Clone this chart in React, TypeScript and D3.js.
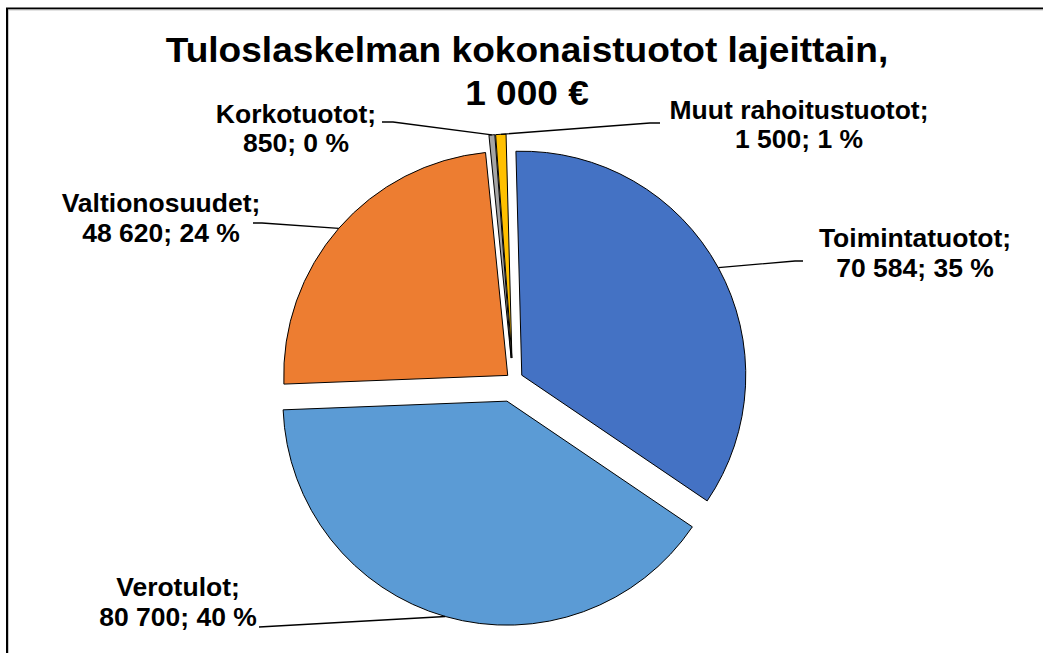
import React from "react";
import * as d3 from "d3";

// ---- data ----
const categories = ["Toimintatuotot", "Verotulot", "Valtionosuudet", "Korkotuotot", "Muut rahoitustuotot"];
const values = [70584, 80700, 48620, 850, 1500];
const colors = ["#4472C4", "#5B9BD5", "#ED7D31", "#A5A5A5", "#FFC000"];
const titleLines = ["Tuloslaskelman kokonaistuotot lajeittain,", "1 000 €"];

// ---- layout / style ----
const W = 1043;
const H = 653;
const CX = 513;
const CY = 380;
const R = 224;
const START_DEG = -1.5;
const explode = [10, 22, 7, 22, 22];
const SX = 1.06; // horizontal text stretch
const labelFont = 25;
const titleFont = 35;
// label block: centre x, first baseline, line gap, leader path points from label side to elbow
const labelLayout = [
  { cx: 915, y: 247, gap: 30, leader: [[803, 261], [795, 261]] },
  { cx: 178, y: 596, gap: 30, leader: [[259, 627]] },
  { cx: 161, y: 212, gap: 30, leader: [[253, 223], [262, 223]] },
  { cx: 296, y: 123, gap: 29, leader: [[382, 122], [393, 122]] },
  { cx: 799, y: 119, gap: 29, leader: [[660, 123], [650, 123]] },
];

const locale = d3.formatLocale({ decimal: ",", thousands: "\u00a0", grouping: [3], currency: ["", " €"] });
const fmt = locale.format(",d");

export default function App() {
  const total = d3.sum(values);
  const rad = (d: number) => (d * Math.PI) / 180;
  const pie = d3
    .pie<number>()
    .sort(null)
    .value((d) => d)
    .startAngle(rad(START_DEG))
    .endAngle(rad(START_DEG) + 2 * Math.PI);
  const arcs = pie(values);
  const arc = d3.arc<d3.PieArcDatum<number>>().innerRadius(0).outerRadius(R);
  const line = d3.line();

  return (
    <svg
      width={W}
      height={H}
      style={{ position: "absolute", left: 0, top: 0, background: "#fff" }}
      fontFamily="'Liberation Sans', Arial, sans-serif"
    >
      <rect x={0} y={0} width={W} height={H} fill="#fff" />
      <rect x={7} y={8.5} width={W + 50} height={H + 50} fill="none" stroke="#000" strokeWidth={2} />
      <path d={`M8.5,${H} V10 H${W}`} fill="none" stroke="#c8c8c8" strokeWidth={1} />

      {arcs.map((a, i) => {
        const mid = (a.startAngle + a.endAngle) / 2;
        const ox = CX + explode[i] * Math.sin(mid);
        const oy = CY - explode[i] * Math.cos(mid);
        return (
          <path
            key={categories[i]}
            d={arc(a) || ""}
            transform={`translate(${ox},${oy})`}
            fill={colors[i]}
            stroke="#000"
            strokeWidth={1}
            strokeLinejoin="round"
          />
        );
      })}

      {arcs.map((a, i) => {
        const mid = (a.startAngle + a.endAngle) / 2;
        const ox = CX + explode[i] * Math.sin(mid);
        const oy = CY - explode[i] * Math.cos(mid);
        const px = ox + R * Math.sin(mid);
        const py = oy - R * Math.cos(mid);
        const pts = [...labelLayout[i].leader, [px, py]] as [number, number][];
        return <path key={"l" + i} d={line(pts) || ""} fill="none" stroke="#000" strokeWidth={1.3} />;
      })}

      {categories.map((c, i) => {
        const L = labelLayout[i];
        const pct = Math.round((values[i] / total) * 100);
        return (
          <g key={"t" + i} transform={`translate(${L.cx},0) scale(${SX},1)`}>
            <text x={0} y={L.y} textAnchor="middle" fontWeight="bold" fontSize={labelFont} fill="#000">
              {c + ";"}
            </text>
            <text x={0} y={L.y + L.gap} textAnchor="middle" fontWeight="bold" fontSize={labelFont} fill="#000">
              {`${fmt(values[i])}; ${pct} %`}
            </text>
          </g>
        );
      })}

      <g transform={`translate(527,0) scale(${SX},1)`}>
        {titleLines.map((t, i) => (
          <text key={t} x={0} y={62 + i * 43} textAnchor="middle" fontWeight="bold" fontSize={titleFont} fill="#000">
            {t}
          </text>
        ))}
      </g>
    </svg>
  );
}
